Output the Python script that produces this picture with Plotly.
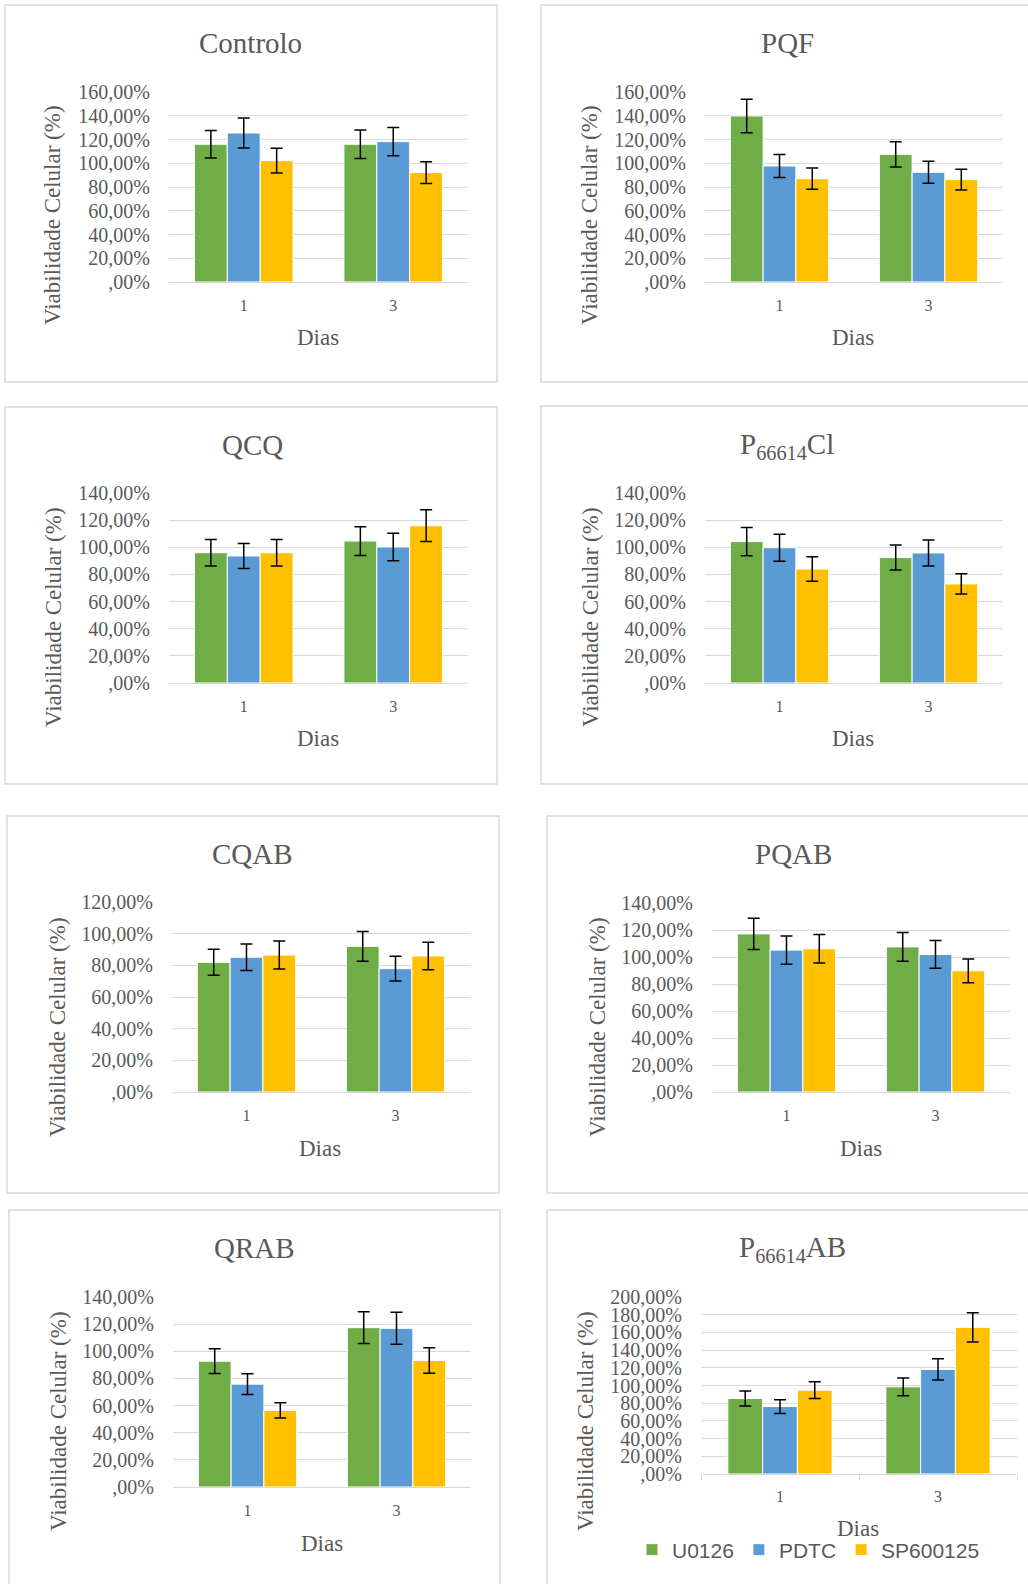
import plotly.graph_objects as go

# ---------------- data ----------------
days = ["1", "3"]
series_names = ["U0126", "PDTC", "SP600125"]
panel_titles = ["Controlo", "PQF", "QCQ", "P<sub>66614</sub>Cl",
                "CQAB", "PQAB", "QRAB", "P<sub>66614</sub>AB"]
y_max = [160, 160, 140, 140, 120, 140, 140, 200]

# one [day 1, day 3] pair per panel, in panel order
u0126_mean = [[116.0, 116.0], [139.8, 107.5], [96.0, 104.6], [104.2, 92.4],
              [81.9, 92.0], [117.1, 107.5], [92.7, 117.4], [85.3, 98.5]]
u0126_err = [[11.5, 12.0], [14.2, 10.7], [9.8, 10.6], [10.4, 9.2],
             [8.2, 9.4], [11.6, 10.6], [9.1, 11.7], [8.5, 10.0]]
pdtc_mean = [[125.5, 118.2], [97.7, 92.4], [93.6, 100.2], [99.7, 95.8],
             [85.1, 77.9], [105.1, 101.9], [75.8, 116.9], [76.2, 118.1]]
pdtc_err = [[12.7, 11.9], [9.6, 9.2], [9.2, 10.1], [9.9, 9.5],
            [8.4, 7.8], [10.5, 10.3], [7.6, 11.8], [7.8, 12.0]]
sp_mean = [[102.2, 92.1], [87.0, 86.2], [96.0, 115.9], [84.0, 73.0],
           [86.5, 85.9], [106.1, 89.8], [56.4, 93.2], [94.7, 165.7]]
sp_err = [[10.4, 9.2], [9.0, 8.8], [9.8, 11.7], [9.1, 7.5],
          [8.8, 8.7], [10.6, 8.8], [5.6, 9.4], [9.4, 16.6]]

# ---------------- style / layout ----------------
W, H = 1028, 1584
colors = ["#70AD47", "#5B9BD5", "#FFC000"]
grey = "#595959"
grid = "#D9D9D9"
serif = "Liberation Serif, Times New Roman, serif"

# plot areas in pixels: (x0, x1, y0, y1)
plot_boxes = [(169, 468, 92, 282), (705, 1003, 92, 282),
              (169, 468, 493, 683), (705, 1003, 493, 683),
              (172, 470, 902, 1092), (712, 1010, 903, 1092),
              (173, 471, 1297, 1487), (701, 1017, 1297, 1474)]
frames = [(5, 497, 5, 382), (541, 1040, 5, 382),
          (5, 497, 407, 784), (541, 1040, 406, 784),
          (7, 499, 816, 1193), (547, 1040, 816, 1193),
          (9, 500, 1210, 1600), (547, 1040, 1210, 1600)]
title_pos = [(250, 43), (787, 43), (252, 445), (787, 446),
             (252, 854), (793, 854), (254, 1248), (792, 1249)]
ytitle_pos = [(53, 215), (590, 215), (53, 617), (590, 617),
              (57, 1027), (597, 1027), (58, 1421), (585, 1421)]
xtitle_pos = [(318, 337), (853, 337), (318, 739), (853, 739),
              (320, 1148), (861, 1148), (322, 1543), (858, 1528)]


def px(x):
    return x / W


def py(y):
    return 1 - y / H


def fmt(v):
    return f"{v},00%" if v else ",00%"


fig = go.Figure()
means = [u0126_mean, pdtc_mean, sp_mean]
errs = [u0126_err, pdtc_err, sp_err]

shapes = []
annotations = []
layout_axes = {}

for i in range(8):
    k = i + 1
    xa = "x" if k == 1 else f"x{k}"
    ya = "y" if k == 1 else f"y{k}"
    for s in range(3):
        fig.add_trace(go.Bar(
            x=days, y=means[s][i], name=series_names[s],
            marker=dict(color=colors[s], line=dict(color="white", width=1)),
            error_y=dict(type="data", array=errs[s][i], visible=True,
                         color="black", thickness=1.5, width=6),
            xaxis=xa, yaxis=ya, offsetgroup=str(s),
            showlegend=(i == 7), legendgroup=series_names[s],
        ))
    x0, x1, y0, y1 = plot_boxes[i]
    last = (i == 7)
    ticks_y = list(range(0, y_max[i] + 1, 20))
    layout_axes["xaxis" if k == 1 else f"xaxis{k}"] = dict(
        domain=[px(x0), px(x1)], anchor=ya, type="category", automargin=False,
        showgrid=False, zeroline=False,
        showline=last, linecolor=grid, linewidth=1,
        ticks="outside" if last else "", tickcolor=grid, ticklen=5,
        tickson="boundaries" if last else "labels",
        tickfont=dict(family=serif, size=16, color=grey),
        ticklabelstandoff=8 if last else 12,
    )
    layout_axes["yaxis" if k == 1 else f"yaxis{k}"] = dict(
        domain=[py(y1), py(y0)], anchor=xa, range=[0, y_max[i]], automargin=False,
        tickvals=ticks_y, ticktext=[fmt(v) for v in ticks_y],
        showgrid=True, gridcolor=grid, gridwidth=1,
        zeroline=True, zerolinecolor=grid, zerolinewidth=1,
        showline=False, ticks="",
        tickfont=dict(family=serif, size=20, color=grey),
        ticklabelstandoff=18,
    )
    fx0, fx1, fy0, fy1 = frames[i]
    shapes.append(dict(type="rect", xref="paper", yref="paper",
                       x0=px(fx0), x1=px(fx1), y0=py(fy1), y1=py(fy0),
                       line=dict(color=grid, width=1.5), fillcolor="rgba(0,0,0,0)",
                       layer="below"))
    tx, ty = title_pos[i]
    annotations.append(dict(text=panel_titles[i], xref="paper", yref="paper",
                            x=px(tx), y=py(ty), xanchor="center", yanchor="middle",
                            showarrow=False, font=dict(family=serif, size=29, color=grey)))
    yx, yy = ytitle_pos[i]
    annotations.append(dict(text="Viabilidade Celular (%)", xref="paper", yref="paper",
                            x=px(yx), y=py(yy), xanchor="center", yanchor="middle",
                            textangle=-90, showarrow=False,
                            font=dict(family=serif, size=23, color=grey)))
    dx, dy = xtitle_pos[i]
    annotations.append(dict(text="Dias", xref="paper", yref="paper",
                            x=px(dx), y=py(dy), xanchor="center", yanchor="middle",
                            showarrow=False, font=dict(family=serif, size=23, color=grey)))

fig.update_layout(
    width=W, height=H,
    margin=dict(l=0, r=0, t=0, b=0, autoexpand=False),
    paper_bgcolor="white", plot_bgcolor="white",
    barmode="group", bargap=0.34, bargroupgap=0,
    shapes=shapes, annotations=annotations,
    legend=dict(orientation="h", x=px(632), y=py(1550), xanchor="left", yanchor="middle",
                font=dict(family="Liberation Sans, Arial, sans-serif", size=21, color=grey),
                bgcolor="rgba(0,0,0,0)", traceorder="normal"),
    **layout_axes,
)

fig.write_html("out.html", config={"displayModeBar": False},
               post_script="document.body.style.margin='0';")
